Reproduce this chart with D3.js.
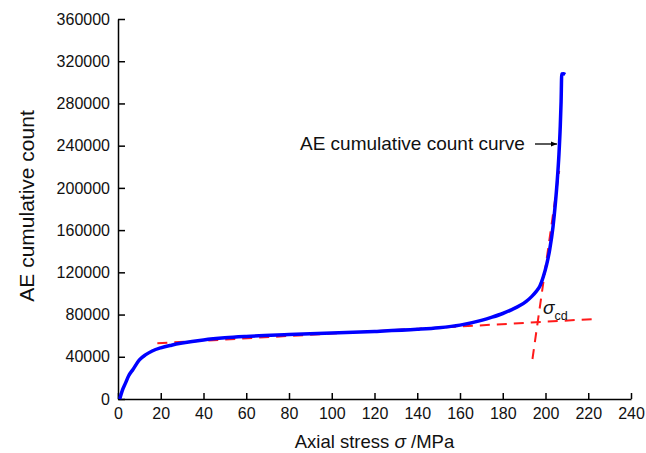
<!DOCTYPE html>
<html>
<head>
<meta charset="utf-8">
<script src="https://cdn.jsdelivr.net/npm/d3@7"></script>
<style>
  body { margin: 0; background: #fff; }
  svg { font-family: "Liberation Sans", Arial, sans-serif; }
</style>
</head>
<body>
<div id="chart"></div>
<script>
// AE cumulative count vs axial stress
var stress = [0.8, 2, 3.5, 5, 7, 10, 13, 16, 20, 25, 30, 40, 50, 60, 80, 100, 120, 140, 150, 160,
  170, 175, 180, 184, 188, 191, 193.5, 195.5, 197.4, 199, 200.5, 202, 203.5, 204.6, 205.5, 206.3,
  206.9, 207.3, 207.6, 208.4, 209.2];
var count = [0, 8000, 15000, 22000, 28000, 37000, 42000, 45500, 48500, 51000, 53000, 56000, 58000,
  59300, 61000, 62500, 64000, 66000, 67500, 70000, 74500, 77500, 81000, 84500, 88500, 92500,
  97000, 101500, 107000, 116000, 127000, 142000, 163000, 185000, 207000, 232000,
  258000, 282000, 308000, 308200, 307500];

// tangent lines used to pick the crack damage stress
var fitLines = [
  [[18.4, 52800], [223.2, 75800]],
  [[193.9, 37900], [206.4, 216100]]
];

var xTicks = [0, 20, 40, 60, 80, 100, 120, 140, 160, 180, 200, 220, 240];
var yTicks = [0, 40000, 80000, 120000, 160000, 200000, 240000, 280000, 320000, 360000];

var width = 646, height = 453;
var margin = {top: 19, right: 15, bottom: 54, left: 118};

var svg = d3.select('#chart').append('svg')
  .attr('width', width).attr('height', height);

var x = d3.scaleLinear().domain([0, 240]).range([margin.left, width - margin.right]);
var y = d3.scaleLinear().domain([0, 360000]).range([height - margin.bottom, margin.top]);

var xAxis = svg.append('g')
  .attr('transform', 'translate(0,' + y(0) + ')')
  .call(d3.axisBottom(x).tickValues(xTicks).tickSizeInner(-6).tickSizeOuter(0).tickPadding(9));
var yAxis = svg.append('g')
  .attr('transform', 'translate(' + x(0) + ',0)')
  .call(d3.axisLeft(y).tickValues(yTicks).tickSizeInner(-7).tickSizeOuter(0).tickPadding(8)
    .tickFormat(d3.format('d')));

[xAxis, yAxis].forEach(function(a) {
  a.selectAll('path, line').attr('stroke', '#000').attr('stroke-width', 1.5);
  a.selectAll('text').attr('font-size', 16).attr('fill', '#111')
    .attr('font-family', '"Liberation Sans", Arial, sans-serif');
});

// dashed red fit lines
svg.selectAll('line.fit')
  .data(fitLines)
  .enter().append('line')
  .attr('class', 'fit')
  .attr('x1', function(d) { return x(d[0][0]); })
  .attr('y1', function(d) { return y(d[0][1]); })
  .attr('x2', function(d) { return x(d[1][0]); })
  .attr('y2', function(d) { return y(d[1][1]); })
  .attr('stroke', '#ff1a1a').attr('stroke-width', 2)
  .attr('stroke-dasharray', '10,7');

// main curve
var line = d3.line()
  .x(function(d, i) { return x(stress[i]); })
  .y(function(d) { return y(d); })
  .curve(d3.curveMonotoneX);

svg.append('path')
  .datum(count)
  .attr('d', line)
  .attr('fill', 'none')
  .attr('stroke', '#0000ff')
  .attr('stroke-width', 3.5)
  .attr('stroke-linejoin', 'round');

// annotation with arrow
svg.append('defs').append('marker')
  .attr('id', 'arrow').attr('viewBox', '0 0 10 10')
  .attr('refX', 10).attr('refY', 5)
  .attr('markerWidth', 8).attr('markerHeight', 6)
  .attr('markerUnits', 'userSpaceOnUse')
  .attr('orient', 'auto')
  .append('path').attr('d', 'M0,1 L10,5 L0,9 Z').attr('fill', '#000');

svg.append('text')
  .attr('x', 300).attr('y', 150)
  .attr('font-size', 19).attr('fill', '#111')
  .text('AE cumulative count curve');

svg.append('line')
  .attr('x1', 535).attr('y1', 144).attr('x2', 557).attr('y2', 144)
  .attr('stroke', '#000').attr('stroke-width', 1.3)
  .attr('marker-end', 'url(#arrow)');

// sigma_cd label
var sig = svg.append('text').attr('x', 543).attr('y', 314).attr('fill', '#111');
sig.append('tspan').attr('font-size', 19).attr('font-style', 'italic').text('σ');
sig.append('tspan').attr('font-size', 12.5).attr('dy', 6).text('cd');

// axis titles
var xt = svg.append('text')
  .attr('x', (x(0) + x(240)) / 2).attr('y', 448)
  .attr('text-anchor', 'middle').attr('font-size', 18.5).attr('fill', '#111');
xt.append('tspan').text('Axial stress ');
xt.append('tspan').attr('font-style', 'italic').attr('font-size', 19).text('σ');
xt.append('tspan').text(' /MPa');

svg.append('text')
  .attr('transform', 'translate(34,' + ((y(0) + y(360000)) / 2 - 3) + ') rotate(-90)')
  .attr('text-anchor', 'middle').attr('font-size', 21).attr('fill', '#111')
  .text('AE cumulative count');
</script>
</body>
</html>
